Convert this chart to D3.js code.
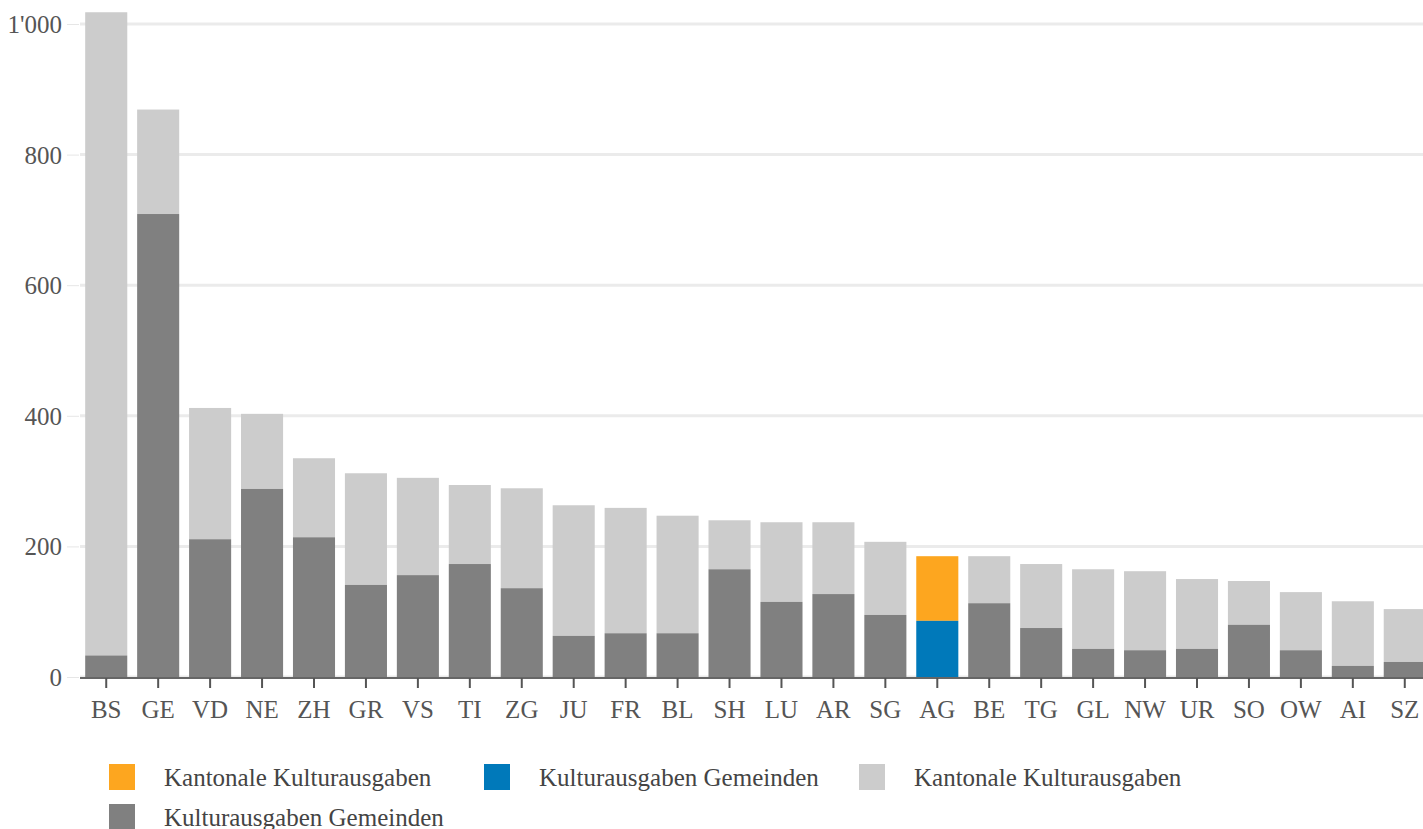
<!DOCTYPE html>
<html>
<head>
<meta charset="utf-8">
<script src="https://cdn.jsdelivr.net/npm/d3@7"></script>
<style>
  body { margin: 0; background: #fff; }
  svg { display: block; font-family: "Liberation Serif", "DejaVu Serif", serif; }
  .tick text { fill: #555; font-size: 25px; }
</style>
</head>
<body>
<svg id="chart" width="1423" height="829"></svg>
<script>
// Kulturausgaben pro Kopf nach Kanton (CHF)
var cantons = ['BS','GE','VD','NE','ZH','GR','VS','TI','ZG','JU','FR','BL','SH','LU','AR','SG','AG','BE','TG','GL','NW','UR','SO','OW','AI','SZ'];
var gemeinden = [33, 709, 211, 288, 214, 141, 156, 173, 136, 63, 67, 67, 165, 115, 127, 95, 86, 113, 75, 43, 41, 43, 80, 41, 17, 23];
var kantonal  = [985, 160, 201, 115, 121, 171, 149, 121, 153, 200, 192, 180, 75, 122, 110, 112, 99, 72, 98, 122, 121, 107, 67, 89, 99, 81];
var yTicks = [0, 200, 400, 600, 800, 1000];
var highlight = 'AG';

var legendItems = [
    {label: 'Kantonale Kulturausgaben', color: '#fda61f'},
    {label: 'Kulturausgaben Gemeinden', color: '#0079ba'},
    {label: 'Kantonale Kulturausgaben', color: '#cccccc'},
    {label: 'Kulturausgaben Gemeinden', color: '#808080'}
];

var svg = d3.select('#chart');
var width = 1423;

var swiss = d3.formatLocale({decimal: '.', thousands: "'", grouping: [3], currency: ['', '']});
var fmt = swiss.format(',');

var x = d3.scaleBand()
    .domain(cantons)
    .range([80, 1431])
    .paddingInner(0.19)
    .paddingOuter(0.1);

var y = d3.scaleLinear()
    .domain([0, 1000])
    .range([677, 24]);

// gridlines
svg.append('g')
    .selectAll('line')
    .data(yTicks)
    .enter().append('line')
    .attr('x1', 80)
    .attr('x2', width)
    .attr('y1', function(d){ return y(d); })
    .attr('y2', function(d){ return y(d); })
    .attr('stroke', '#ebebeb')
    .attr('stroke-width', 3);

// y axis
var yAxis = svg.append('g')
    .attr('transform', 'translate(79,0)')
    .call(d3.axisLeft(y).tickValues(yTicks).tickFormat(fmt).tickSize(12).tickPadding(5))
    .attr('font-family', null)
    .attr('font-size', null);
yAxis.select('.domain').remove();
yAxis.selectAll('.tick line').attr('stroke', '#e6e6e6');
yAxis.selectAll('.tick text').attr('dy', '0.34em');

// bars
var rows = cantons.map(function(c, i){
    return {canton: c, gem: gemeinden[i], kan: kantonal[i]};
});

var bars = svg.append('g').selectAll('g')
    .data(rows)
    .enter().append('g');

bars.append('rect')
    .attr('x', function(d){ return x(d.canton); })
    .attr('width', x.bandwidth())
    .attr('y', function(d){ return y(d.gem + d.kan); })
    .attr('height', function(d){ return y(d.gem) - y(d.gem + d.kan); })
    .attr('fill', function(d){ return d.canton === highlight ? '#fda61f' : '#cccccc'; });

bars.append('rect')
    .attr('x', function(d){ return x(d.canton); })
    .attr('width', x.bandwidth())
    .attr('y', function(d){ return y(d.gem); })
    .attr('height', function(d){ return y(0) - y(d.gem); })
    .attr('fill', function(d){ return d.canton === highlight ? '#0079ba' : '#808080'; });

// x axis
var xAxis = svg.append('g')
    .attr('transform', 'translate(0,' + (y(0) + 1) + ')')
    .call(d3.axisBottom(x).tickSizeOuter(0).tickSizeInner(10))
    .attr('font-family', null)
    .attr('font-size', null);
xAxis.select('.domain')
    .attr('stroke', '#666')
    .attr('stroke-width', 2)
    .attr('d', 'M80,0H' + width);
xAxis.selectAll('.tick line').attr('stroke', '#555').attr('stroke-width', 2);
xAxis.selectAll('.tick text').attr('y', 40).attr('dy', 0);

// legend
var legend = svg.append('g').selectAll('g')
    .data(legendItems)
    .enter().append('g')
    .attr('transform', function(d, i){
        return 'translate(' + (109 + (i % 3) * 375) + ',' + (764 + Math.floor(i / 3) * 40) + ')';
    });

legend.append('rect')
    .attr('width', 26)
    .attr('height', 26)
    .attr('fill', function(d){ return d.color; });

legend.append('text')
    .attr('x', 55)
    .attr('y', 13)
    .attr('dy', '0.35em')
    .attr('fill', '#444')
    .style('font-size', '25px')
    .text(function(d){ return d.label; });
</script>
</body>
</html>
